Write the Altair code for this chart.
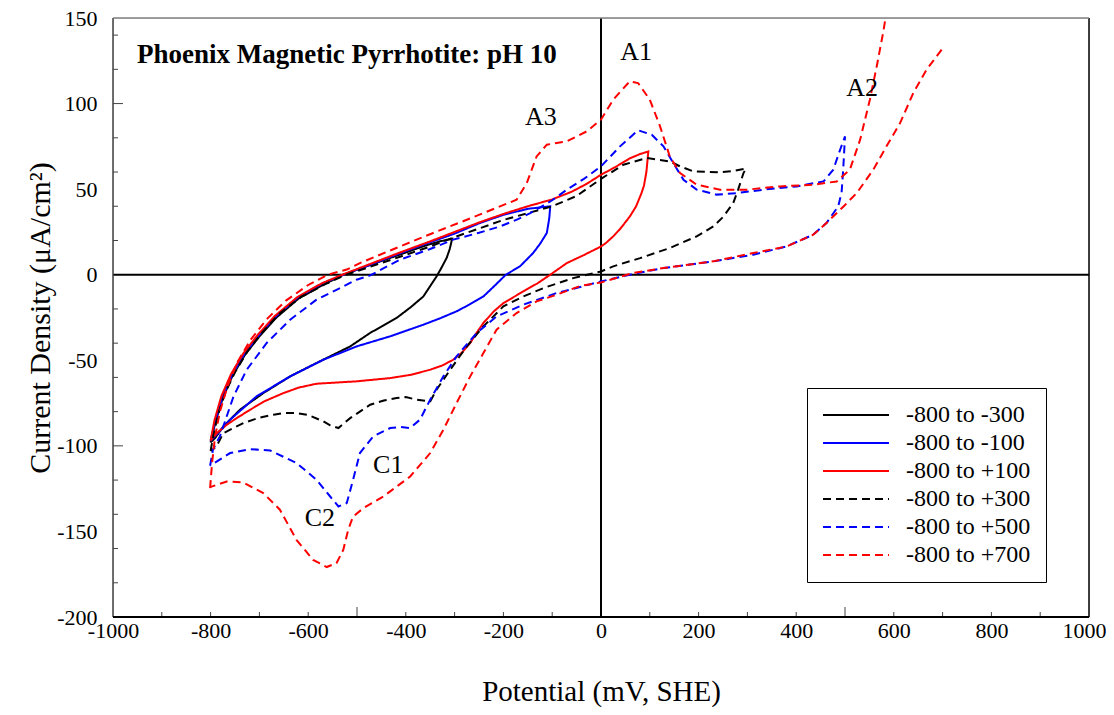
import altair as alt
import pandas as pd

FONT = "Liberation Serif"

series_names = ["-800 to -300", "-800 to -100", "-800 to +100",
                "-800 to +300", "-800 to +500", "-800 to +700"]
series_colors = ["#000000", "#0000ff", "#ff0000", "#000000", "#0000ff", "#ff0000"]
series_dash = [[1, 0], [1, 0], [1, 0], [8, 5], [8, 5], [8, 5]]

# -800 to -300 (solid black)
bs_x = [-800, -790, -775, -755, -730, -700, -665, -620, -570, -528, -480, -420, -360, -330, -305,
        -310, -316, -327, -337, -364, -390, -419, -473, -514, -583, -637, -692, -740, -774, -791, -800]
bs_y = [-98, -86, -72, -59, -47, -36, -25, -14, -6, 0, 5, 11, 17, 19.5, 21,
        15, 10, 4, -1, -12.7, -19, -25.3, -34, -41.9, -51.6, -59.4, -69.2, -78.9, -88.7, -95.5, -98]

# -800 to -100 (solid blue)
bl_x = [-800, -790, -775, -755, -730, -700, -665, -620, -570, -528, -480, -412, -350, -300, -250, -200, -150, -104,
        -106, -111, -125, -139, -166, -195, -220, -241, -270, -296, -330, -364, -432, -501, -569, -637, -706, -760, -788, -800]
bl_y = [-97, -85, -71, -58, -46, -35, -24, -13, -5, 0, 5, 12.5, 19, 24, 30, 35, 38.5, 40,
        33, 24.4, 18, 12.7, 4.9, 0, -7, -12.7, -17.5, -21.4, -25.5, -29.2, -36, -41.9, -49.7, -59.4, -71.1, -84.7, -93.5, -97]

# -800 to +100 (solid red)
rs_x = [-800, -792, -778, -758, -733, -703, -668, -622, -572, -530, -480, -412, -350, -300, -250, -200, -150, -100,
        -60, -30, 0, 30, 59, 80, 97,
        95, 93, 88, 83, 72, 59, 40, 25, 10, 0, -35, -70, -104, -130, -159, -200, -220, -241, -255, -268, -285,
        -303, -325, -350, -390, -432, -501, -583, -620, -651, -690, -719, -745, -767, -785, -794, -800]
rs_y = [-97, -85, -71, -58, -46, -35, -24, -13, -5, 0, 5.5, 13, 19.5, 25, 30.5, 35.5, 40, 44,
        48.5, 53, 58.4, 63, 68, 70.5, 72,
        66, 60, 52, 47.7, 40, 34, 27, 22.4, 18.5, 16.5, 11.5, 6.8, 0, -5, -9.7, -16.6, -21.5, -28.2, -34, -39.9, -45.5,
        -49.7, -53, -55.5, -58.5, -60.4, -62.3, -63.7, -66, -69.2, -74, -78.9, -83.5, -87.7, -92, -94.5, -97]

# -800 to +300 (dashed black)
bd_x = [-800, -795, -785, -770, -750, -725, -695, -660, -615, -565, -522, -480, -412, -350, -300, -250, -200, -150,
        -100, -50, 0, 46, 94, 141, 162, 189, 244, 270, 297,
        292, 281, 271, 251, 230, 196, 141, 80, 25, 0, -57, -118, -159, -200, -241, -275, -309, -337, -350, -378,
        -400, -419, -445, -473, -514, -538, -555, -569, -600, -624, -650, -671, -700, -733, -774, -788, -800]
bd_y = [-103, -95, -82, -69, -57, -45, -34, -23, -13, -5.5, 0, 4, 10.5, 16.5, 22, 27, 32, 36,
        40, 46, 56, 64.3, 68.2, 66.2, 63.3, 60.4, 59.8, 60.5, 62,
        59.4, 49.7, 41.9, 34, 28.2, 22.4, 15.6, 9.7, 4.9, 1.9, -2, -7.8, -12.7, -18.5, -30.2, -41.9, -55.5, -67.2, -74, -73,
        -71.5, -72.1, -73.5, -76, -83.8, -89.6, -88, -85.7, -82, -80.8, -80.8, -81.8, -83.5, -86.7, -92.6, -100.3, -103]

# -800 to +500 (dashed blue)
bld_x = [-801, -795, -781, -753, -726, -685, -637, -583, -542, -501, -473, -412, -350, -303, -250, -207, -170, -145,
         -100, -70, -35, 0, 39, 76, 104, 128, 148, 169, 196, 237, 278, 333, 401, 456, 476, 490, 500,
         496, 493, 486, 462, 435, 380, 312, 230, 128, 59, 0, -43, -91, -159, -214, -255, -296, -323, -350, -371,
         -391, -410, -432, -467, -494, -508, -521, -538, -555, -583, -624, -678, -719, -760, -801]
bld_y = [-111.6, -102, -94.5, -71.1, -55.5, -39.9, -26.3, -14.6, -8.8, -2.9, -0.4, 8.8, 15, 20.5, 24.5, 28.2, 32.5, 36,
         43.5, 49.7, 56, 63.3, 75, 84.4, 81.8, 75, 65.3, 55.5, 49.7, 46.8, 47.7, 49.7, 51.6, 54.5, 61.4, 73, 80.8,
         60, 48, 39.9, 30.2, 23.4, 16.5, 11.7, 7.8, 3.9, 0, -3.9, -7.2, -10.7, -17.5, -24.4, -34.1, -47.7, -59.4, -73, -84.7,
         -89.6, -89, -89.6, -94.5, -104.2, -119.8, -133.4, -135.4, -129.6, -119.8, -110, -102.7, -101.9, -104.2, -111.6]

# -800 to +700 (dashed red): anodic sweep, runs off the top of the plot
rd1_x = [-801, -797, -791, -781, -765, -745, -718, -685, -645, -600, -560, -521, -494, -412, -344, -275, -207, -173,
         -152, -132, -111, -70, -29, 0, 25, 59, 76, 100, 121, 141, 162, 196, 244, 299, 367, 435, 483, 510, 531,
         551, 565, 578, 590]
rd1_y = [-124.7, -110, -95, -80, -65, -51, -38, -26, -15, -6, 0, 3, 6.8, 16.5, 24.4, 32.1, 39.9, 43.8,
         53.6, 69.1, 76, 77.9, 83.8, 90.6, 102.3, 113, 112, 102.3, 86.7, 69.1, 59.4, 52.6, 49.7, 49.7, 51.6, 52.6, 54.5,
         61.4, 78.9, 102.3, 121.7, 141.2, 162]
# -800 to +700 (dashed red): cathodic sweep
rd2_x = [698, 667, 640, 613, 585, 558, 524, 497, 462, 435, 380, 312, 230, 128, 66, 0, -43, -91, -132, -173, -214,
         -241, -268, -296, -323, -350, -391, -446, -487, -508, -518, -528, -542, -562, -590, -624, -658, -692, -733,
         -767, -801]
rd2_y = [131.5, 119.8, 106.2, 88.7, 75, 61.4, 47.7, 39.9, 30.2, 23.4, 16.5, 12.7, 7.8, 3.9, 1, -4.5, -6.6, -11.7,
         -15.6, -22.4, -32.1, -45.8, -59.4, -75, -90.6, -104.2, -117.9, -129.6, -136.4, -141.3, -149, -160.7, -168.5,
         -170.8, -166.6, -154.9, -137.3, -127.6, -121.4, -120.8, -124.1]

series_segments = [
    [(bs_x, bs_y)],
    [(bl_x, bl_y)],
    [(rs_x, rs_y)],
    [(bd_x, bd_y)],
    [(bld_x, bld_y)],
    [(rd1_x, rd1_y), (rd2_x, rd2_y)],
]

# annotations
note_text = ["A1", "A2", "A3", "C1", "C2"]
note_x = [72, 535, -123, -436, -576]
note_y = [130, 109, 92, -111, -142]
chart_title = "Phoenix Magnetic Pyrrhotite: pH 10"
chart_title_x = [-951]
chart_title_y = [128.6]

x_label_values = list(range(-1000, 1001, 200))
y_label_values = list(range(-200, 151, 50))
x_minor_ticks = [v for v in range(-900, 1000, 100) if v not in (-500, 0, 500)]
x_major_ticks = [-500, 500]
y_minor_ticks = [v for v in range(-180, 150, 20) if v not in (-100, 0, 100)]
y_major_ticks = [-100, 100]
zero_lines = [0]

rows = []
for name, segs in zip(series_names, series_segments):
    for si, (xs, ys) in enumerate(segs):
        for i, (xv, yv) in enumerate(zip(xs, ys)):
            rows.append({"series": name, "seg": f"{name}#{si}", "idx": i, "x": xv, "y": yv})
df = pd.DataFrame(rows)

W, H = 976, 599
xscale = alt.Scale(domain=[-1000, 1000], nice=False, zero=False)
yscale = alt.Scale(domain=[-200, 150], nice=False, zero=False)

legend = alt.Legend(
    title=None, orient="none", legendX=694, legendY=370,
    symbolType="M-1,0H5", symbolSize=484, symbolStrokeWidth=2,
    labelFont=FONT, labelFontSize=24, labelColor="black", labelOffset=60,
    fillColor="white", strokeColor="black", padding=15, rowPadding=4,
)

x_axis = alt.Axis(values=x_label_values, ticks=False, domain=False, grid=False,
                  labelFont=FONT, labelFontSize=22, labelColor="black", labelPadding=3,
                  labelFlush=False, labelOverlap=False, labelBound=False,
                  labelExpr="datum.value + ''",
                  labelOffset={"condition": {"test": "datum.value === 1000", "value": -5}, "value": 0},
                  title="Potential (mV, SHE)", titleFont=FONT, titleFontSize=29,
                  titleFontWeight="normal", titleColor="black", titleX=W / 2, titleY=83,
                  titleBaseline="alphabetic")
y_axis = alt.Axis(values=y_label_values, ticks=False, domain=False, grid=False,
                  labelFont=FONT, labelFontSize=22, labelColor="black", labelPadding=16,
                  labelOverlap=False, labelFlush=False, labelBound=False,
                  labelExpr="datum.value + ''",
                  title="Current Density (μA/cm²)", titleFont=FONT, titleFontSize=30,
                  titleFontWeight="normal", titleColor="black", titleX=-73, titleY=H / 2,
                  titleAngle=-90, titleBaseline="middle", titleAlign="center")

lines = alt.Chart(df).mark_line(clip=True, strokeWidth=2).encode(
    x=alt.X("x:Q", scale=xscale, axis=x_axis),
    y=alt.Y("y:Q", scale=yscale, axis=y_axis),
    color=alt.Color("series:N", scale=alt.Scale(domain=series_names, range=series_colors), legend=legend),
    strokeDash=alt.StrokeDash("series:N", scale=alt.Scale(domain=series_names, range=series_dash), legend=legend),
    detail="seg:N",
    order="idx:Q",
)

zx = alt.Chart(pd.DataFrame({"v": zero_lines})).mark_rule(color="black", strokeWidth=2).encode(
    x=alt.X("v:Q", scale=xscale))
zy = alt.Chart(pd.DataFrame({"v": zero_lines})).mark_rule(color="black", strokeWidth=2).encode(
    y=alt.Y("v:Q", scale=yscale))

ytk_minor = alt.Chart(pd.DataFrame({"v": y_minor_ticks})).mark_rule(color="#444", strokeWidth=1).encode(
    y=alt.Y("v:Q", scale=yscale), x=alt.value(0), x2=alt.value(5))
ytk_major = alt.Chart(pd.DataFrame({"v": y_major_ticks})).mark_rule(color="#444", strokeWidth=1).encode(
    y=alt.Y("v:Q", scale=yscale), x=alt.value(0), x2=alt.value(10))
xtk_minor = alt.Chart(pd.DataFrame({"v": x_minor_ticks})).mark_rule(color="#444", strokeWidth=1).encode(
    x=alt.X("v:Q", scale=xscale), y=alt.value(H), y2=alt.value(H - 5))
xtk_major = alt.Chart(pd.DataFrame({"v": x_major_ticks})).mark_rule(color="#444", strokeWidth=1).encode(
    x=alt.X("v:Q", scale=xscale), y=alt.value(H), y2=alt.value(H - 10))

frame_src = pd.DataFrame({"k": [0]})
f_left = alt.Chart(frame_src).mark_rule(color="#404040", strokeWidth=1.5).encode(
    x=alt.value(0), y=alt.value(0), y2=alt.value(H))
f_right = alt.Chart(frame_src).mark_rule(color="black", strokeWidth=1.5).encode(
    x=alt.value(W), y=alt.value(0), y2=alt.value(H))
f_bottom = alt.Chart(frame_src).mark_rule(color="black", strokeWidth=2).encode(
    y=alt.value(H), x=alt.value(0), x2=alt.value(W))
f_top = alt.Chart(frame_src).mark_rule(color="#808080", strokeWidth=1.5).encode(
    y=alt.value(0), x=alt.value(0), x2=alt.value(W))

notes = alt.Chart(pd.DataFrame({"t": note_text, "x": note_x, "y": note_y})).mark_text(
    font=FONT, fontSize=26, color="black", align="center", baseline="middle").encode(
    x=alt.X("x:Q", scale=xscale), y=alt.Y("y:Q", scale=yscale), text="t:N")

title = alt.Chart(pd.DataFrame({"t": [chart_title], "x": chart_title_x, "y": chart_title_y})).mark_text(
    font=FONT, fontSize=27, fontWeight="bold", color="black", align="left", baseline="middle").encode(
    x=alt.X("x:Q", scale=xscale), y=alt.Y("y:Q", scale=yscale), text="t:N")

chart = alt.layer(
    zx, zy, ytk_minor, ytk_major, xtk_minor, xtk_major, lines, notes, title,
    f_left, f_right, f_bottom, f_top,
).properties(
    width=W, height=H,
    autosize=alt.AutoSizeParams(type="none"),
    padding={"left": 105, "top": 10, "right": 17, "bottom": 90},
).configure_view(stroke=None).configure(background="white")

chart.save("out.html", embed_options={"renderer": "svg", "actions": False})
